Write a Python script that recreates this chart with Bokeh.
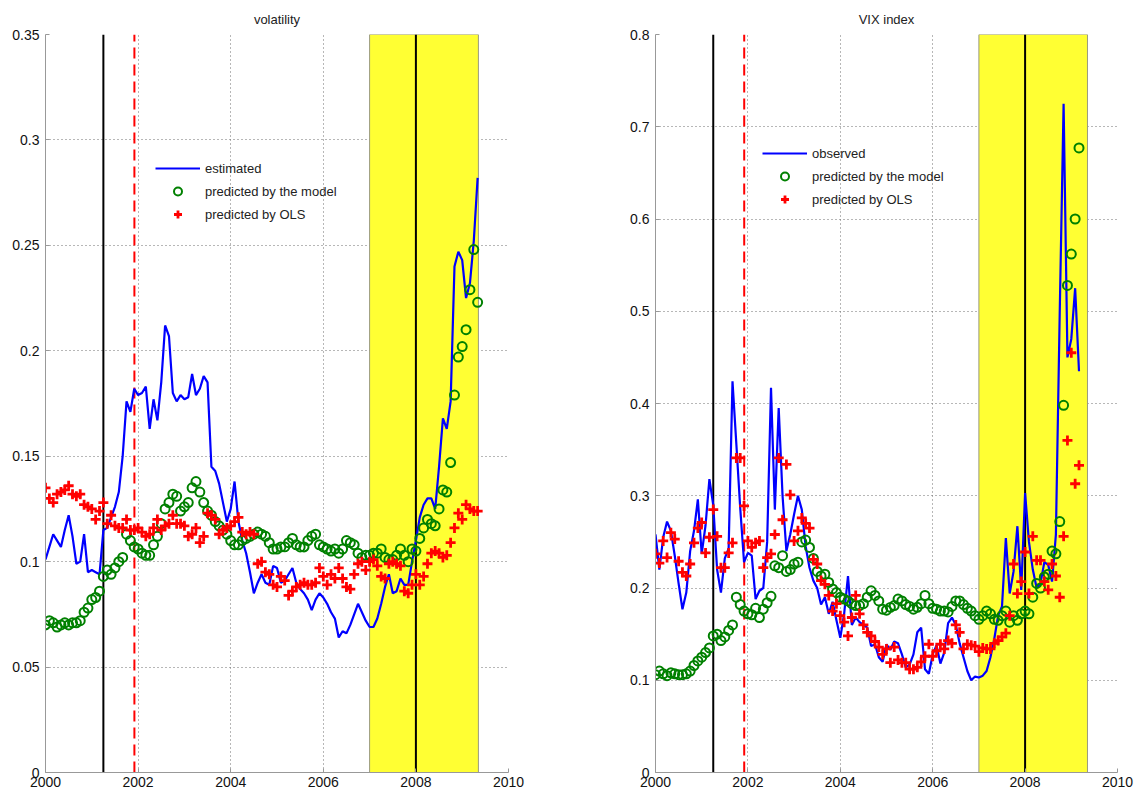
from bokeh.plotting import figure
from bokeh.layouts import row
from bokeh.models import (FixedTicker, CustomJSTickFormatter, Legend, LegendItem,
                          ColumnDataSource, Range1d)
from bokeh.embed import file_html
from bokeh.resources import INLINE

FONT = "Liberation Sans"

# ---------------- data ----------------
start_year = 2000
x_ticks = [2000, 2002, 2004, 2006, 2008, 2010]
vol_ticks = [0, 0.05, 0.1, 0.15, 0.2, 0.25, 0.3, 0.35]
vix_ticks = [0, 0.1, 0.2, 0.3, 0.4, 0.5, 0.6, 0.7, 0.8]

recession_lines = [2001.25, 2008.0]      # black solid
end_line = [2001.92]                     # red dashed
crisis_band = [2007.0, 2009.35]          # yellow band

vol_estimated = [
    0.101, 0.107, 0.113, 0.110, 0.107, 0.115, 0.122, 0.112, 0.099, 0.100, 0.113, 0.095,
    0.096, 0.095, 0.094, 0.115, 0.116, 0.121, 0.126, 0.133, 0.150, 0.176, 0.171, 0.182,
    0.179, 0.180, 0.183, 0.163, 0.177, 0.167, 0.185, 0.212, 0.207, 0.180, 0.176, 0.179,
    0.177, 0.178, 0.189, 0.179, 0.182, 0.188, 0.185, 0.145, 0.143, 0.137, 0.128, 0.119,
    0.125, 0.138, 0.119, 0.110, 0.104, 0.095, 0.085, 0.090, 0.094, 0.090, 0.089, 0.098,
    0.097, 0.090, 0.091, 0.094, 0.097, 0.090, 0.087, 0.085, 0.082, 0.077, 0.082, 0.085,
    0.083, 0.080, 0.076, 0.073, 0.064, 0.067, 0.066, 0.070, 0.075, 0.080, 0.076, 0.072,
    0.069, 0.069, 0.073, 0.080, 0.088, 0.094, 0.085, 0.086, 0.092, 0.089, 0.089, 0.100,
    0.110, 0.121, 0.127, 0.130, 0.130, 0.125, 0.145, 0.168, 0.163, 0.176, 0.240, 0.247,
    0.243, 0.225, 0.232, 0.252, 0.282]

vol_model = [
    0.070, 0.072, 0.071, 0.069, 0.070, 0.071, 0.070, 0.071, 0.071, 0.072, 0.076, 0.078,
    0.082, 0.083, 0.086, 0.093, 0.096, 0.094, 0.097, 0.100, 0.102, 0.113, 0.110, 0.107,
    0.106, 0.104, 0.103, 0.103, 0.108, 0.112, 0.118, 0.125, 0.128, 0.132, 0.131, 0.124,
    0.126, 0.128, 0.135, 0.138, 0.133, 0.128, 0.124, 0.122, 0.119, 0.117, 0.115, 0.113,
    0.110, 0.108, 0.108, 0.110, 0.111, 0.112, 0.113, 0.114, 0.113, 0.112, 0.109, 0.106,
    0.106, 0.107, 0.107, 0.109, 0.111, 0.108, 0.107, 0.107, 0.110, 0.112, 0.113, 0.108,
    0.107, 0.106, 0.105, 0.106, 0.104, 0.106, 0.110, 0.109, 0.108, 0.104, 0.102, 0.103,
    0.103, 0.104, 0.104, 0.106, 0.102, 0.101, 0.101, 0.103, 0.106, 0.103, 0.100, 0.106,
    0.105, 0.111, 0.116, 0.120, 0.118, 0.117, 0.125, 0.134, 0.133, 0.147, 0.179, 0.197,
    0.202, 0.210, 0.229, 0.248, 0.223]

vol_ols = [
    0.135, 0.130, 0.128, 0.132, 0.133, 0.134, 0.136, 0.132, 0.131, 0.132, 0.127, 0.126,
    0.125, 0.120, 0.124, 0.128, 0.118, 0.122, 0.117, 0.116, 0.116, 0.120, 0.115, 0.115,
    0.116, 0.114, 0.112, 0.113, 0.116, 0.120, 0.115, 0.117, 0.118, 0.122, 0.118, 0.118,
    0.117, 0.112, 0.113, 0.116, 0.109, 0.112, 0.123, 0.122, 0.120, 0.113, 0.115, 0.116,
    0.117, 0.119, 0.121, 0.114, 0.113, 0.114, 0.113, 0.099, 0.100, 0.095, 0.094, 0.089,
    0.088, 0.093, 0.091, 0.084, 0.086, 0.088, 0.089, 0.090, 0.089, 0.089, 0.090, 0.097,
    0.093, 0.089, 0.094, 0.092, 0.097, 0.092, 0.088, 0.087, 0.094, 0.099, 0.100, 0.096,
    0.100, 0.101, 0.098, 0.093, 0.092, 0.099, 0.100, 0.099, 0.098, 0.086, 0.085, 0.089,
    0.094, 0.089, 0.093, 0.099, 0.104, 0.105, 0.104, 0.102, 0.103, 0.109, 0.116, 0.123,
    0.120, 0.127, 0.125, 0.124, 0.124]

vix_observed = [
    0.258, 0.220, 0.255, 0.272, 0.262, 0.235, 0.205, 0.177, 0.195, 0.240, 0.262, 0.296,
    0.237, 0.268, 0.318, 0.290, 0.220, 0.195, 0.232, 0.243, 0.424, 0.356, 0.287, 0.228,
    0.238, 0.235, 0.188, 0.197, 0.200, 0.250, 0.417, 0.285, 0.395, 0.300, 0.240, 0.258,
    0.280, 0.300, 0.285, 0.245, 0.222, 0.208, 0.200, 0.182, 0.190, 0.172, 0.185, 0.165,
    0.146, 0.172, 0.213, 0.160, 0.168, 0.163, 0.160, 0.157, 0.137, 0.139, 0.125, 0.120,
    0.139, 0.133, 0.142, 0.140, 0.128, 0.114, 0.117, 0.128, 0.152, 0.157, 0.112, 0.107,
    0.128, 0.138, 0.118, 0.130, 0.162, 0.168, 0.160, 0.140, 0.125, 0.110, 0.100, 0.104,
    0.103, 0.105, 0.110, 0.125, 0.145, 0.170, 0.180, 0.254, 0.194, 0.218, 0.267, 0.198,
    0.303, 0.250, 0.220, 0.200, 0.205, 0.228, 0.225, 0.207, 0.258, 0.500, 0.725, 0.450,
    0.470, 0.525, 0.435]

vix_model = [
    0.106, 0.110, 0.107, 0.105, 0.108, 0.107, 0.106, 0.106, 0.107, 0.110, 0.116, 0.121,
    0.125, 0.130, 0.135, 0.148, 0.150, 0.143, 0.147, 0.154, 0.160, 0.190, 0.182, 0.175,
    0.172, 0.171, 0.178, 0.168, 0.177, 0.184, 0.191, 0.224, 0.222, 0.235, 0.218, 0.220,
    0.226, 0.228, 0.250, 0.252, 0.244, 0.232, 0.218, 0.213, 0.215, 0.206, 0.199, 0.195,
    0.190, 0.188, 0.186, 0.183, 0.181, 0.181, 0.183, 0.190, 0.197, 0.192, 0.186, 0.177,
    0.176, 0.179, 0.181, 0.188, 0.186, 0.182, 0.180, 0.177, 0.179, 0.183, 0.192, 0.183,
    0.178, 0.177, 0.175, 0.175, 0.174, 0.180, 0.186, 0.186, 0.182, 0.178, 0.175, 0.170,
    0.166, 0.170, 0.175, 0.172, 0.166, 0.165, 0.170, 0.175, 0.163, 0.170, 0.165, 0.172,
    0.175, 0.172, 0.190, 0.205, 0.200, 0.212, 0.215, 0.240, 0.237, 0.272, 0.398, 0.528,
    0.562, 0.600, 0.677]

vix_ols = [
    0.237, 0.227, 0.251, 0.233, 0.260, 0.253, 0.229, 0.217, 0.213, 0.226, 0.249, 0.265,
    0.271, 0.238, 0.255, 0.285, 0.256, 0.222, 0.222, 0.238, 0.249, 0.341, 0.341, 0.289,
    0.251, 0.244, 0.249, 0.251, 0.222, 0.233, 0.237, 0.258, 0.341, 0.274, 0.334, 0.301,
    0.251, 0.262, 0.276, 0.270, 0.265, 0.231, 0.226, 0.208, 0.204, 0.192, 0.175, 0.183,
    0.170, 0.163, 0.148, 0.168, 0.192, 0.172, 0.160, 0.152, 0.148, 0.142, 0.136, 0.128,
    0.134, 0.119, 0.136, 0.122, 0.119, 0.119, 0.112, 0.112, 0.114, 0.120, 0.126, 0.139,
    0.126, 0.132, 0.139, 0.134, 0.143, 0.140, 0.160, 0.152, 0.134, 0.139, 0.138, 0.137,
    0.131, 0.135, 0.134, 0.134, 0.140, 0.143, 0.147, 0.151, 0.170, 0.226, 0.194, 0.207,
    0.239, 0.194, 0.256, 0.230, 0.230, 0.207, 0.198, 0.226, 0.213, 0.190, 0.256, 0.360,
    0.455, 0.313, 0.333]


def monthly_dates(n):
    return [start_year + i / 12 for i in range(n)]


def make_panel(title, y_max, y_ticks, blue, green, red, blue_label,
               legend_xy, frame_w, border_l, border_r):
    p = figure(frame_width=frame_w, frame_height=738,
               min_border_left=border_l, min_border_right=border_r,
               min_border_top=34, min_border_bottom=30,
               x_range=Range1d(2000, 2010), y_range=Range1d(0, y_max),
               output_backend="svg", toolbar_location=None,
               background_fill_color="white", border_fill_color="white")
    p.outline_line_color = None
    p.title.text = title
    p.title.text_font = FONT
    p.title.text_font_size = "13px"
    p.title.text_font_style = "normal"
    p.title.align = "center"
    p.title.text_color = "#222222"
    p.title.standoff = 16

    for ax in (p.xaxis[0], p.yaxis[0]):
        ax.major_label_text_font = FONT
        ax.major_label_text_font_size = "14px"
        ax.major_label_text_color = "#111111"
        ax.axis_line_color = "#999999"
        ax.major_tick_line_color = "#999999"
        ax.major_tick_in = 4
        ax.major_tick_out = 0
        ax.minor_tick_line_color = None
    p.xaxis[0].ticker = FixedTicker(ticks=x_ticks)
    p.yaxis[0].ticker = FixedTicker(ticks=y_ticks)
    p.yaxis[0].formatter = CustomJSTickFormatter(code="return String(+tick.toFixed(2));")
    p.xaxis[0].major_label_standoff = 4
    p.yaxis[0].major_label_standoff = 6

    p.xgrid.ticker = FixedTicker(ticks=x_ticks)
    p.ygrid.ticker = FixedTicker(ticks=y_ticks)
    for g in (p.xgrid[0], p.ygrid[0]):
        g.grid_line_color = "#6f6f6f"
        g.grid_line_dash = "1 3"
        g.grid_line_width = 1

    # yellow crisis band
    p.quad(left=[crisis_band[0]], right=[crisis_band[1]], bottom=[0], top=[y_max],
           fill_color="#FFFF33", line_color="#9a9a80", line_width=1)

    # vertical event lines
    p.segment(x0=recession_lines, x1=recession_lines,
              y0=[0] * len(recession_lines), y1=[y_max] * len(recession_lines),
              line_color="black", line_width=2)
    p.segment(x0=end_line, x1=end_line, y0=[0], y1=[y_max],
              line_color="#FF0000", line_width=2, line_dash="11 6")

    src_b = ColumnDataSource(dict(x=monthly_dates(len(blue)), y=blue))
    src_g = ColumnDataSource(dict(x=monthly_dates(len(green)), y=green))
    src_r = ColumnDataSource(dict(x=monthly_dates(len(red)), y=red))

    r_line = p.line("x", "y", source=src_b, line_color="#0000FF", line_width=2.2)
    r_circ = p.scatter("x", "y", source=src_g, marker="circle", size=9,
                       fill_color=None, line_color="#008000", line_width=2)
    r_plus = p.scatter("x", "y", source=src_r, marker="cross", size=10,
                       line_color="#FF0000", line_width=2.8)

    legend = Legend(items=[LegendItem(label=blue_label, renderers=[r_line]),
                           LegendItem(label="predicted by the model", renderers=[r_circ]),
                           LegendItem(label="predicted by OLS", renderers=[r_plus])],
                    location=legend_xy)
    legend.border_line_color = None
    legend.background_fill_alpha = 0
    legend.padding = 0
    legend.margin = 0
    legend.spacing = 3
    legend.glyph_width = 45
    legend.glyph_height = 20
    legend.label_height = 20
    legend.label_standoff = 5
    legend.label_text_font = FONT
    legend.label_text_font_size = "13px"
    legend.label_text_color = "#222222"
    p.add_layout(legend)
    return p


left = make_panel("volatility", 0.35, vol_ticks, vol_estimated, vol_model, vol_ols,
                  "estimated", (110, 548), 463, 45, 97)
right = make_panel("VIX index", 0.8, vix_ticks, vix_observed, vix_model, vix_ols,
                   "observed", (107, 563), 462, 50, 20)

layout = row(left, right)
open("out.html", "w").write(file_html(layout, INLINE))
